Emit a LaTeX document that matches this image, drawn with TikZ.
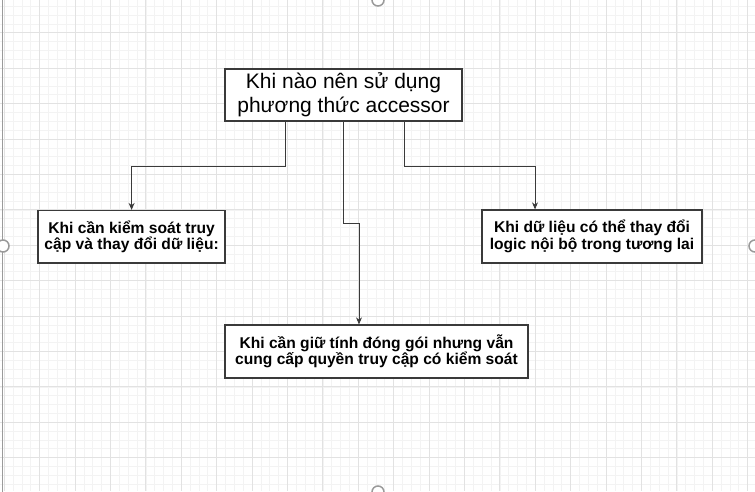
\documentclass[tikz,border=0pt]{standalone}
\usepackage{fontspec}
\setmainfont{Liberation Sans}
\usepackage{xcolor}
\usetikzlibrary{
  positioning,
  calc,
  arrows.meta
}
\definecolor{gridminor}{HTML}{F3F3F3}
\definecolor{gridmajor}{HTML}{E2E2E2}
\definecolor{boxline}{HTML}{3A3A3A}
\definecolor{handle}{HTML}{9A9A9A}

\begin{document}
\begin{tikzpicture}[x=1pt,y=-1pt,
  box/.style={draw=boxline,line width=1.3pt,fill=white,inner sep=0pt,align=center},
  conn/.style={draw=boxline,line width=0.9pt,-{Stealth[length=7pt,width=6pt]}},
  bigtext/.style={font=\fontsize{21}{24}\selectfont},
  smalltext/.style={font=\fontsize{15.6}{16.5}\selectfont\bfseries}
]
  % nền và lưới
  \useasboundingbox (0,0) rectangle (755,492);
  \fill[white] (0,0) rectangle (755,492);
  \foreach \i in {0,...,85} {
    \draw[gridminor,line width=0.8pt] ({4.3+8.85*\i},0) -- ({4.3+8.85*\i},491);
  }
  \foreach \i in {0,...,56} {
    \draw[gridminor,line width=0.8pt] (0,{6.35+8.85*\i}) -- (755,{6.35+8.85*\i});
  }
  \foreach \i in {0,...,21} {
    \draw[gridmajor,line width=0.9pt] ({4.3+35.4*\i},0) -- ({4.3+35.4*\i},491);
  }
  \foreach \i in {1,...,14} {
    \draw[gridmajor,line width=0.9pt] (0,{-2.5+35.4*\i}) -- (755,{-2.5+35.4*\i});
  }

  % khung chọn
  \draw[handle,line width=1.5pt] (2.5,0) -- (2.5,492);
  \foreach \p in {(378,0),(3,246),(755,246),(378,492)} {
    \draw[handle,fill=white,line width=1.5pt] \p circle (6);
  }

  % các hộp
  \node[box,bigtext,minimum width=237pt,minimum height=52pt] (top) at (343.5,95)
    {Khi nào nên sử dụng\\phương thức accessor};
  \node[box,smalltext,minimum width=187pt,minimum height=52.5pt] (left) at (131.6,236.8)
    {Khi cần kiểm soát truy\\cập và thay đổi dữ liệu:};
  \node[box,smalltext,minimum width=220pt,minimum height=53pt] (right) at (592,236.5)
    {Khi dữ liệu có thể thay đổi\\logic nội bộ trong tương lai};
  \node[box,smalltext,minimum width=303pt,minimum height=53pt] (bottom) at (376.5,351.5)
    {Khi cần giữ tính đóng gói nhưng vẫn\\cung cấp quyền truy cập có kiểm soát};

  % các mũi tên
  \draw[conn] ([xshift=-58.5pt]top.south) -- ++(0,44.7) -| (left.north);
  \draw[conn] (top.south) -- ++(0,102) -| ([xshift=-17.5pt]bottom.north);
  \draw[conn] ([xshift=60.8pt]top.south) -- ++(0,44.7) -| ([xshift=-57pt]right.north);
\end{tikzpicture}
\end{document}
